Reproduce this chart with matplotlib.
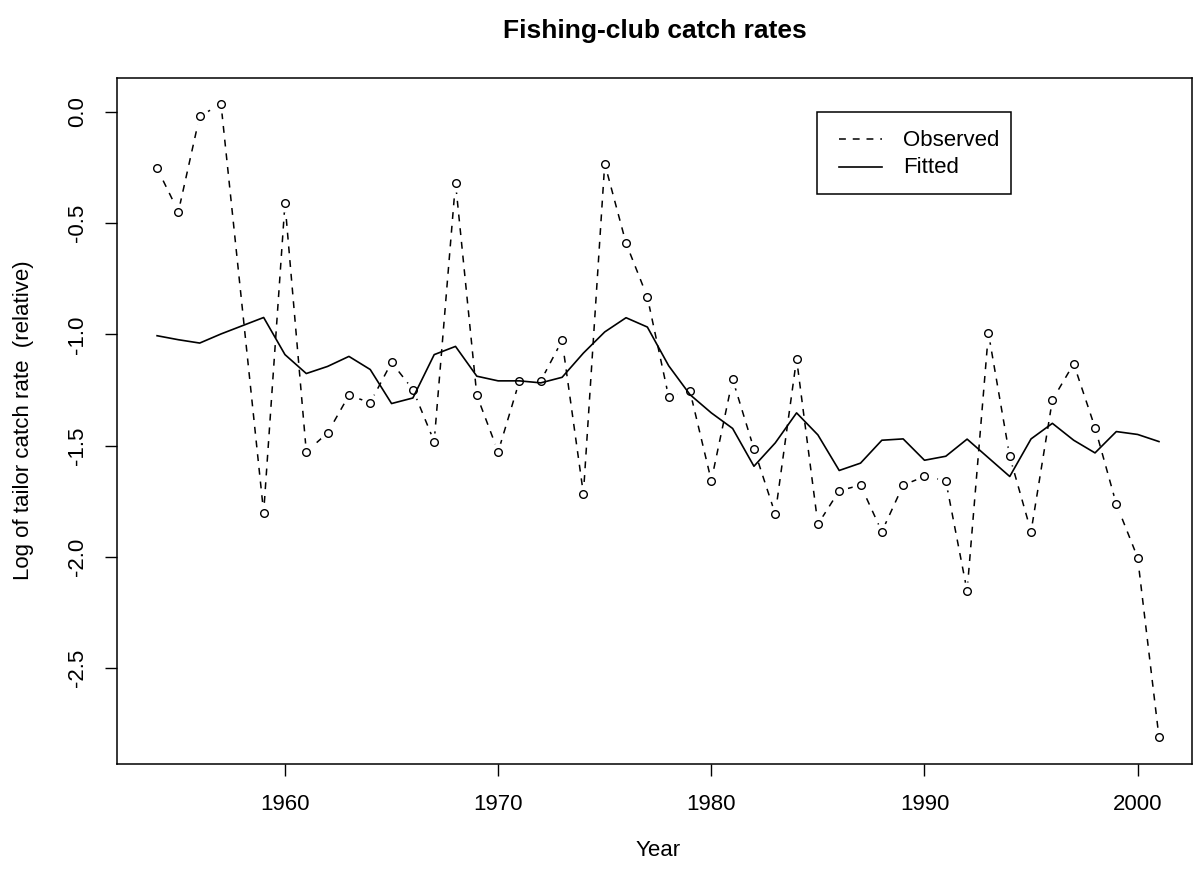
import matplotlib
matplotlib.use("Agg")
import matplotlib.pyplot as plt
from matplotlib.lines import Line2D
from matplotlib.patches import Rectangle

plt.rcParams['font.family'] = ['Liberation Sans', 'DejaVu Sans']

# Observed (1958 absent)
obs_years = [1954, 1955, 1956, 1957, 1959, 1960, 1961, 1962, 1963, 1964, 1965,
             1966, 1967, 1968, 1969, 1970, 1971, 1972, 1973, 1974, 1975, 1976,
             1977, 1978, 1979, 1980, 1981, 1982, 1983, 1984, 1985, 1986, 1987,
             1988, 1989, 1990, 1991, 1992, 1993, 1994, 1995, 1996, 1997, 1998,
             1999, 2000, 2001]
observed = [-0.253, -0.448, -0.018, 0.035, -1.802, -0.410, -1.528, -1.443, -1.274,
            -1.307, -1.126, -1.248, -1.482, -0.317, -1.274, -1.528, -1.209, -1.209,
            -1.027, -1.717, -0.232, -0.590, -0.832, -1.281, -1.256, -1.658, -1.202,
            -1.515, -1.808, -1.110, -1.854, -1.703, -1.678, -1.887, -1.678, -1.639,
            -1.658, -2.154, -0.994, -1.549, -1.887, -1.295, -1.132, -1.419, -1.763,
            -2.004, -2.811]

fit_years = list(range(1954, 2002))
fitted = [-1.006, -1.024, -1.039, -0.998, -0.961, -0.924, -1.091, -1.176, -1.144,
          -1.099, -1.158, -1.311, -1.286, -1.091, -1.054, -1.188, -1.209, -1.209,
          -1.218, -1.193, -1.084, -0.989, -0.925, -0.967, -1.141, -1.271, -1.353,
          -1.423, -1.593, -1.488, -1.353, -1.452, -1.612, -1.579, -1.476, -1.470,
          -1.566, -1.548, -1.471, -1.555, -1.639, -1.470, -1.400, -1.476, -1.533,
          -1.437, -1.450, -1.482]

x_ticks = [1960, 1970, 1980, 1990, 2000]
y_ticks = [0.0, -0.5, -1.0, -1.5, -2.0, -2.5]
y_ticklabels = ["0.0", "-0.5", "-1.0", "-1.5", "-2.0", "-2.5"]
legend_labels = ["Observed", "Fitted"]

W, H = 1194, 875
fig = plt.figure(figsize=(W / 100, H / 100), dpi=100)
ax = fig.add_axes([117 / W, (H - 764) / H, 1075 / W, (764 - 78) / H])

dash = (0, (4.5, 4.5))
ax.plot(obs_years, observed, color='black', lw=1.1, linestyle=dash, zorder=1)
# gaps around points like R type="b"
ax.plot(obs_years, observed, linestyle='none', marker='o', ms=13,
        markerfacecolor='white', markeredgecolor='none', zorder=2)
ax.plot(fit_years, fitted, color='black', lw=1.2, linestyle='-', zorder=3)
ax.plot(obs_years, observed, linestyle='none', marker='o', ms=5.5,
        markerfacecolor='none', markeredgecolor='black', mew=1.0, zorder=4)

ax.set_xlim(1952.12, 2002.55)
ax.set_ylim(-2.932, 0.153)
ax.set_xticks(x_ticks)
ax.set_xticklabels([str(t) for t in x_ticks])
ax.set_yticks(y_ticks)
ax.set_yticklabels(y_ticklabels, rotation=90, va='center')
ax.tick_params(axis='both', direction='out', length=8.6, width=1.0,
               labelsize=16, colors='black')
ax.tick_params(axis='x', pad=13)
ax.tick_params(axis='y', pad=12)
for s in ax.spines.values():
    s.set_linewidth(1.1)
    s.set_color('black')

fig.text(658 / W, 1 - 850 / H, "Year", ha='center', va='center', fontsize=16)
fig.text(24 / W, 1 - 420 / H, "Log of tailor catch rate  (relative)",
         ha='center', va='center', rotation=90, fontsize=16)
fig.text(655 / W, 1 - 31 / H, "Fishing-club catch rates", ha='center',
         va='center', fontsize=19, fontweight='bold')

# Legend box (R style)
def fx(px):
    return px / W

def fy(py):
    return 1 - py / H

fig.add_artist(Rectangle((fx(817.3), fy(194)), fx(1010.7) - fx(817.3),
                         fy(111.7) - fy(194), transform=fig.transFigure,
                         facecolor='white', edgecolor='black', lw=1.1,
                         zorder=10))
fig.add_artist(Line2D([fx(839), fx(881.7)], [fy(139.3), fy(139.3)],
                      transform=fig.transFigure, color='black', lw=1.1,
                      linestyle=dash, zorder=11))
fig.add_artist(Line2D([fx(839), fx(881.7)], [fy(166.7), fy(166.7)],
                      transform=fig.transFigure, color='black', lw=1.2,
                      zorder=11))
fig.text(fx(902.7), fy(140), legend_labels[0], ha='left', va='center',
         fontsize=16, zorder=12)
fig.text(fx(902.7), fy(167.5), legend_labels[1], ha='left', va='center',
         fontsize=16, zorder=12)

fig.savefig("out.png", dpi=100)
